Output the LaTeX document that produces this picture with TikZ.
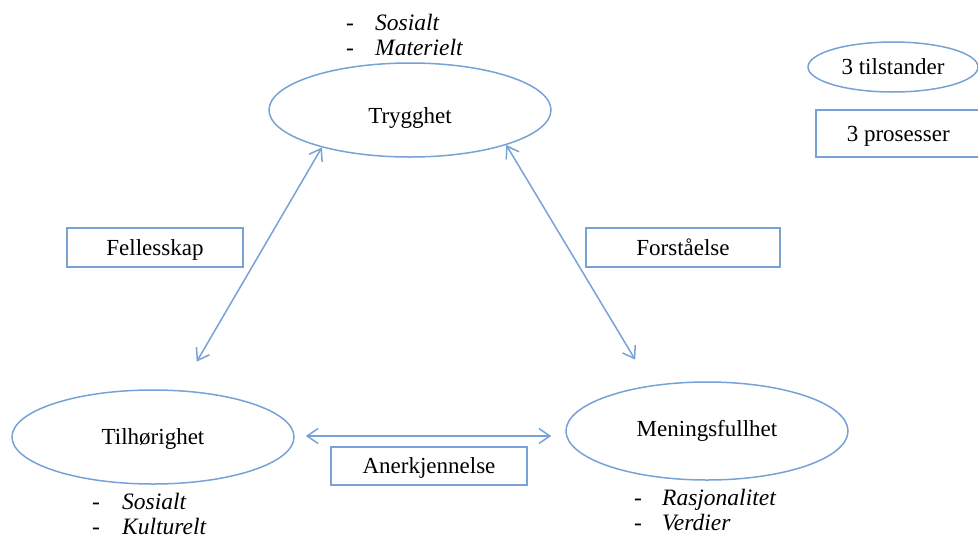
\documentclass[tikz,border=0pt]{standalone}
\usepackage{fontspec}
\setmainfont{Liberation Serif}
\usetikzlibrary{shapes.geometric,arrows.meta,calc}
\definecolor{lineblue}{RGB}{118,162,214}
\begin{document}
\begin{tikzpicture}[x=1pt,y=-1pt,
  every node/.style={font=\fontsize{23}{25.5}\selectfont},
  state/.style={draw=lineblue, line width=1.5pt, ellipse, inner sep=0pt},
  proc/.style={draw=lineblue, line width=1.5pt, rectangle, inner sep=0pt, text depth=0pt},
  conn/.style={draw=lineblue, line width=1.5pt, {Straight Barb[length=11pt,width=15pt,line width=1.5pt]}-{Straight Barb[length=11pt,width=15pt,line width=1.5pt]}},
  items/.style={anchor=west, align=left, inner sep=0pt, font=\fontsize{23.5}{25.5}\selectfont}]
\useasboundingbox (0,0) rectangle (978,539);
% states
\node[state, minimum width=282pt, minimum height=94pt, text height=26pt, text depth=0pt] (tr) at (410,110) {Trygghet};
\node[state, minimum width=282pt, minimum height=94pt, text depth=0pt] (ti) at (153,437) {Tilhørighet};
\node[state, minimum width=282pt, minimum height=98pt] (me) at (707,431) {Meningsfullhet};
% legend
\node[state, minimum width=170pt, minimum height=50pt] (lt) at (893,67) {3 tilstander};
\node[proc, minimum width=190pt, minimum height=47pt, anchor=west] (lp) at (815,133.5) {\hspace*{-25pt}3 prosesser};
% processes
\node[proc, minimum width=176pt, minimum height=39pt] (fe) at (155,247.5) {Fellesskap};
\node[proc, minimum width=194pt, minimum height=39pt] (fo) at (683,247.5) {Forståelse};
\node[proc, minimum width=196pt, minimum height=38pt] (an) at (429,466) {Anerkjennelse};
% item lists
\node[items] (trl) at (346,35) {\makebox[29pt][l]{-}\textit{Sosialt}\\\makebox[29pt][l]{-}\textit{Materielt}};
\node[items] (til) at (92,514) {\makebox[30pt][l]{-}\textit{Sosialt}\\\makebox[30pt][l]{-}\textit{Kulturelt}};
\node[items] (mel) at (634,510) {\makebox[28pt][l]{-}\textit{Rasjonalitet}\\\makebox[28pt][l]{-}\textit{Verdier}};
% connectors
\draw[conn, shorten >=33pt] (tr.203) -- (ti.60);
\draw[conn, shorten >=30pt] (tr.-20) -- (me.141);
\draw[conn] ($(ti.east)+(11,-1)$) -- ($(me.west |- ti.east)+(-14,-1)$);
\end{tikzpicture}
\end{document}
